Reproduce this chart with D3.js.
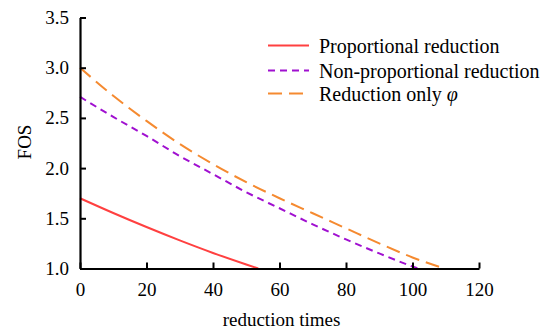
<!DOCTYPE html>
<html>
<head>
<meta charset="utf-8">
<script src="https://cdn.jsdelivr.net/npm/d3@7"></script>
<style>
  html, body { margin: 0; padding: 0; background: #fff; }
  svg text { font-family: "Times New Roman", "Liberation Serif", serif; fill: #000; }
</style>
</head>
<body>
<svg id="chart" width="547" height="333"></svg>
<script>
// ---- data ----
const xTicks = [0, 20, 40, 60, 80, 100, 120];
const yTicks = [1.0, 1.5, 2.0, 2.5, 3.0, 3.5];

const propX = [0, 10, 20, 30, 40, 50, 53.6];
const propY = [1.70, 1.553, 1.413, 1.28, 1.155, 1.04, 1.0];

const nonPropX = [0, 10, 20, 30, 40, 50, 60, 70, 80, 90, 100, 101.7];
const nonPropY = [2.71, 2.51, 2.32, 2.12, 1.94, 1.76, 1.60, 1.44, 1.29, 1.15, 1.02, 1.0];

const phiX = [0, 10, 20, 30, 40, 50, 60, 70, 80, 90, 100, 109.5];
const phiY = [3.0, 2.72, 2.47, 2.24, 2.04, 1.86, 1.70, 1.55, 1.40, 1.25, 1.11, 1.0];

const seriesNames = ["Proportional reduction", "Non-proportional reduction", "Reduction only "];

// ---- layout ----
const svg = d3.select("#chart");
const mLeft = 80, mRight = 479, mTop = 17.5, mBottom = 268.5;
const x = d3.scaleLinear().domain([0, 120]).range([mLeft, mRight]);
const y = d3.scaleLinear().domain([1.0, 3.5]).range([mBottom, mTop]);

const series = [
  { xs: propX, ys: propY, color: "#ff4040", dash: null },
  { xs: nonPropX, ys: nonPropY, color: "#a010d0", dash: "7,5" },
  { xs: phiX, ys: phiY, color: "#f58a30", dash: "14,7" }
];

const line = d3.line().x(d => x(d[0])).y(d => y(d[1])).curve(d3.curveMonotoneX);

const plot = svg.append("g");
series.forEach(s => {
  plot.append("path")
    .datum(s.xs.map((v, i) => [v, s.ys[i]]))
    .attr("d", line)
    .attr("fill", "none")
    .attr("stroke", s.color)
    .attr("stroke-width", 2)
    .attr("stroke-dasharray", s.dash);
});

// axes (ticks inward)
const xAxis = d3.axisBottom(x).tickValues(xTicks).tickFormat(d3.format("d"))
  .tickSizeInner(-6).tickSizeOuter(0).tickPadding(14);
const gx = svg.append("g").attr("transform", `translate(0,${mBottom})`).call(xAxis);
gx.select(".domain").attr("stroke", "#000").attr("stroke-width", 2.2);
gx.selectAll(".tick line").attr("stroke", "#000").attr("stroke-width", 2);
gx.selectAll(".tick text").attr("font-size", 19).attr("font-family", "'Times New Roman','Liberation Serif',serif").attr("fill", "#000");

const yAxis = d3.axisLeft(y).tickValues(yTicks).tickFormat(d3.format(".1f"))
  .tickSizeInner(-6).tickSizeOuter(0).tickPadding(11);
const gy = svg.append("g").attr("transform", `translate(${mLeft},0)`).call(yAxis);
gy.select(".domain").attr("stroke", "#000").attr("stroke-width", 2.2);
gy.selectAll(".tick line").attr("stroke", "#000").attr("stroke-width", 2);
gy.selectAll(".tick text").attr("font-size", 19).attr("font-family", "'Times New Roman','Liberation Serif',serif").attr("fill", "#000");

// axis titles
svg.append("text").attr("x", (mLeft + mRight) / 2 + 2).attr("y", 326)
  .attr("text-anchor", "middle").attr("font-size", 19).text("reduction times");
svg.append("text").attr("transform", `translate(31,142) rotate(-90)`)
  .attr("text-anchor", "middle").attr("font-size", 19).text("FOS");

// legend
const legend = svg.append("g");
const legY = [45.5, 70.5, 93.5];
series.forEach((s, i) => {
  legend.append("line")
    .attr("x1", 268).attr("x2", 309).attr("y1", legY[i]).attr("y2", legY[i])
    .attr("stroke", s.color).attr("stroke-width", 2)
    .attr("stroke-dasharray", s.dash);
  const t = legend.append("text").attr("x", 319).attr("y", legY[i] + 7)
    .attr("font-size", 20).text(seriesNames[i]);
  if (i === 2) t.append("tspan").attr("font-style", "italic").text("φ");
});
</script>
</body>
</html>
